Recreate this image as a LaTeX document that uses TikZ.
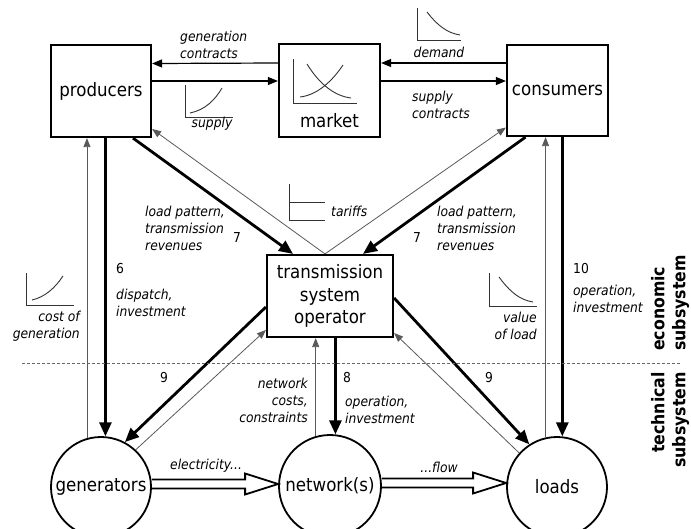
\documentclass[tikz,border=0pt]{standalone}
\usepackage{fontspec}
\setmainfont{DejaVu Sans Condensed}
\usetikzlibrary{arrows.meta,calc}

\begin{document}
\begin{tikzpicture}[x=1pt,y=-1pt,
  box/.style={draw, line width=2.2pt, inner sep=0pt, align=center,
    font=\fontsize{18.5}{22.5}\selectfont},
  boxtext/.style={inner sep=0pt, font=\fontsize{18.5}{22.5}\selectfont},
  circ/.style={circle, draw, line width=1.8pt, inner sep=0pt,
    font=\fontsize{18.5}{22.5}\selectfont},
  lbl/.style={inner sep=0pt, align=left, font=\fontsize{13.7}{17}\selectfont\itshape},
  num/.style={inner sep=0pt, font=\fontsize{13.7}{17}\selectfont},
  sub/.style={inner sep=0pt, rotate=90, font=\fontsize{17.5}{21}\selectfont\bfseries},
  thickarrow/.style={line width=2.8pt, -{Triangle[length=14pt,width=12pt]}},
  thinarrow/.style={line width=0.8pt, black!65, -{Triangle[length=9pt,width=7pt]}},
  medarrow/.style={line width=1.2pt, -{Triangle[length=10pt,width=8pt]}},
  hollow/.style={line width=1.8pt, line join=miter},
  chart/.style={line width=0.9pt, black!80},
  divider/.style={line width=0.8pt, black!60, dash pattern=on 3pt off 2pt}
]
\useasboundingbox (0,0) rectangle (691,528);
\clip (0,0) rectangle (691,528);

% economic actors
\node[box, minimum width=100pt, minimum height=92pt] (prod) at (101,91) {producers};
\node[box, minimum width=101pt, minimum height=93pt] (market) at (329.5,90.5) {};
\node[boxtext] (marketlabel) at (329.5,121) {market};
\node[box, minimum width=101pt, minimum height=91pt] (cons) at (557.5,90.5) {consumers};
\node[box, minimum width=126pt, minimum height=82pt] (tso) at (330,296)
  {transmission\\system\\operator};

% physical components
\node[circ, minimum size=100pt] (gen) at (101,487) {generators};
\node[circ, minimum size=102pt] (net) at (330,486) {network(s)};
\node[circ, minimum size=100pt] (loads) at (557,487) {loads};

% market contracts
\draw[medarrow] ([yshift=27.5pt]market.west) -- ([yshift=27.5pt]prod.east);
\draw[medarrow] ([yshift=10pt]prod.east) -- ([yshift=9.5pt]market.west);
\draw[medarrow] ([yshift=27.5pt]cons.west) -- ([yshift=27.5pt]market.east);
\draw[medarrow] ([yshift=9.5pt]market.east) -- ([yshift=9.5pt]cons.west);

% actors and operator
\draw[thickarrow] ([xshift=32pt]prod.south) -- ([xshift=-37pt]tso.north);
\draw[thinarrow] ([xshift=-5pt]tso.north) -- ([yshift=-38pt]prod.east);
\draw[thickarrow] ([xshift=-32pt]cons.south) -- ([xshift=33pt]tso.north);
\draw[thinarrow] ([xshift=-5pt]tso.north) -- ([yshift=-37pt]cons.west);

% vertical links
\draw[thinarrow] (gen.106) -- (gen.106 |- prod.south);
\draw[thickarrow] (gen.85 |- prod.south) -- (gen.85);
\draw[thinarrow] (loads.103) -- (loads.103 |- cons.south);
\draw[thickarrow] (loads.84 |- cons.south) -- (loads.84);
\draw[thinarrow] (net.106) -- (net.106 |- tso.south);
\draw[thickarrow] (net.84 |- tso.south) -- (net.84);

% operator and components
\draw[thickarrow] ([yshift=-11pt]tso.west) -- (gen.62);
\draw[thinarrow] (gen.47) -- ([yshift=-34pt]tso.west);
\draw[thickarrow] ([yshift=-2pt]tso.east) -- (loads.123);
\draw[thinarrow] (loads.138) -- ([yshift=-37pt]tso.east);

% electricity flow
\draw[hollow] let \p1=([yshift=3pt]gen.east), \p2=([yshift=3pt]net.west) in
  (\x1,\y1+4.5pt) -- (\x2-33pt,\y1+4.5pt) -- (\x2-33pt,\y1+10.5pt) -- (\x2,\y1)
  -- (\x2-33pt,\y1-10.5pt) -- (\x2-33pt,\y1-4.5pt) -- (\x1,\y1-4.5pt);
\draw[hollow] let \p1=([yshift=3pt]net.east), \p2=([yshift=3pt]loads.west) in
  (\x1,\y1+4.5pt) -- (\x2-33pt,\y1+4.5pt) -- (\x2-33pt,\y1+10.5pt) -- (\x2,\y1)
  -- (\x2-33pt,\y1-10.5pt) -- (\x2-33pt,\y1-4.5pt) -- (\x1,\y1-4.5pt);

% small curves
\draw[chart] (293,59) -- (293,103) -- (357,103);
\draw[chart] (307,64) .. controls (320,85) and (335,96) .. (351,98);
\draw[chart] (300,97) .. controls (318,95) and (333,80) .. (343,65);
\draw[chart] (185,85) -- (185,117) -- (233,117);
\draw[chart] (190,113) .. controls (205,110) and (215,100) .. (222,88);
\draw[chart] (417,8) -- (417,40) -- (461,40);
\draw[chart] (427,12) .. controls (437,25) and (447,33) .. (460,35);
\draw[chart] (289,184) -- (289,220) -- (325,220);
\draw[chart] (289,202) -- (325,202);
\draw[chart] (26,273) -- (26,305) -- (74,305);
\draw[chart] (32,300) .. controls (45,297) and (55,288) .. (63,276);
\draw[chart] (489,273) -- (489,306) -- (537,306);
\draw[chart] (499,277) .. controls (510,292) and (520,300) .. (533,302);

% labels
\node[lbl, anchor=west] (lgen) at (180,44.5) {generation\\contracts};
\node[lbl] (lsupply) at (212,124) {supply};
\node[lbl] (ldemand) at (439,52) {demand};
\node[lbl, anchor=west] (lsupc) at (412,105) {supply\\contracts};
\node[lbl, anchor=west] (lpat1) at (145,228) {load pattern,\\transmission\\revenues};
\node[lbl, anchor=west] (lpat2) at (437,228) {load pattern,\\transmission\\revenues};
\node[num] (n7a) at (237,238) {7};
\node[num] (n7b) at (417,238) {7};
\node[lbl, anchor=west] (ltar) at (331,211) {tariffs};
\node[num] (n6) at (120,269) {6};
\node[lbl, anchor=west] (ldisp) at (116,302.5) {dispatch,\\investment};
\node[lbl, anchor=east, align=right] (lcost) at (80,326.5) {cost of\\generation};
\node[lbl, anchor=east, align=right] (lval) at (537,326) {value\\of load};
\node[num, anchor=west] (n10) at (573,269) {10};
\node[lbl, anchor=west] (lop1) at (573,298.5) {operation,\\investment};
\node[num] (n9a) at (164,378) {9};
\node[num] (n9b) at (489,378) {9};
\node[num, anchor=west] (n8) at (343,378) {8};
\node[lbl, anchor=east, align=right] (lnet) at (308,400) {network\\costs,\\constraints};
\node[lbl, anchor=west] (lop2) at (345,409.5) {operation,\\investment};
\node[lbl, anchor=west] (lelec) at (170,466) {electricity...};
\node[lbl, anchor=east] (lflow) at (458,467) {...flow};

% subsystem boundary
\draw[divider] (22,363) -- (680,363);
\node[sub, anchor=west, align=left] (econ) at (670,351) {economic\\subsystem};
\node[sub, anchor=east, align=right] (tech) at (670,372) {technical\\subsystem};
\end{tikzpicture}
\end{document}
